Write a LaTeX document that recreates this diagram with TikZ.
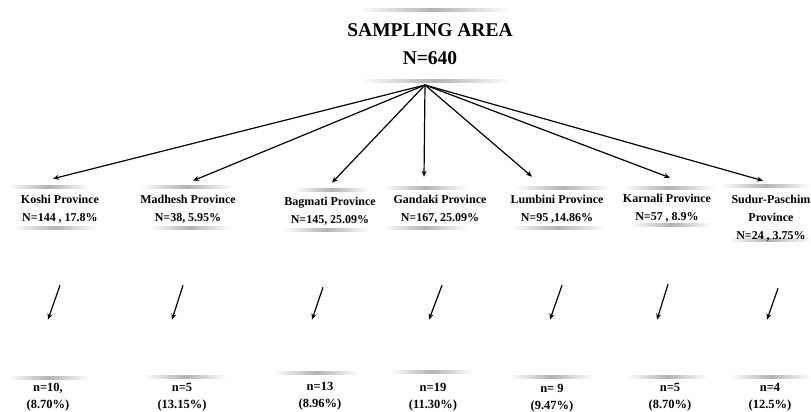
\documentclass[tikz,border=0pt]{standalone}
\usepackage{fontspec}
\setmainfont{Liberation Serif}
\usetikzlibrary{arrows.meta}

\begin{document}
\begin{tikzpicture}[x=1pt,y=-1pt]
\tikzset{
  titlenode/.style={align=center,inner sep=1pt,font=\bfseries\fontsize{19.5}{28}\selectfont},
  provnode/.style={align=center,inner sep=1pt,font=\bfseries\fontsize{12}{18}\selectfont},
  samplenode/.style={align=center,inner sep=1pt,font=\bfseries\fontsize{12.5}{17.5}\selectfont},
  spoke/.style={-{Stealth[length=6pt,width=5pt]},line width=1.2pt},
  drop/.style={-{Stealth[length=6pt,width=5pt]},line width=1.2pt},
  shadebar/.style={left color=white,right color=white,middle color=gray!60}
}
\useasboundingbox (0,0) rectangle (811,412);
% soft grey bars above and below the texts
\foreach \xa/\xb/\yy in {357/510/10,360/510/81,
  7/90/187,13/97/228,140/233/187,150/230/228,293/370/190,283/370/230,
  383/467/188,383/467/228,515/610/188,510/605/228,622/715/188,630/712/225,
  720/811/186,727/811/240,
  7/90/378,143/227/377,273/360/373,390/473/372,510/593/377,627/707/377,730/811/377}
  \shade[shadebar] (\xa,\yy-1.4) rectangle (\xb,\yy+1.4);
\node[titlenode] (n_area) at (430,44) {SAMPLING AREA\\N=640};
\coordinate (hub) at (425,85);
\node[provnode] (n_koshi) at (60,209) {Koshi Province\\N=144 , 17.8\%};
\node[provnode] (n_madhesh) at (188,209) {Madhesh Province\\N=38, 5.95\%};
\node[provnode] (n_bagmati) at (330,211) {Bagmati Province\\N=145, 25.09\%};
\node[provnode] (n_gandaki) at (440,209) {Gandaki Province\\N=167, 25.09\%};
\node[provnode] (n_lumbini) at (557,209) {Lumbini Province\\N=95 ,14.86\%};
\node[provnode] (n_karnali) at (667,208) {Karnali Province\\N=57 , 8.9\%};
\node[provnode] (n_sudur) at (771,218) {Sudur-Paschim\\Province\\N=24 , 3.75\%};
\node[samplenode] (s_koshi) at (48,397) {n=10,\\(8.70\%)};
\node[samplenode] (s_madhesh) at (182,397) {n=5\\(13.15\%)};
\node[samplenode] (s_bagmati) at (320,396) {n=13\\(8.96\%)};
\node[samplenode] (s_gandaki) at (433,397) {n=19\\(11.30\%)};
\node[samplenode] (s_lumbini) at (552,398) {n= 9\\(9.47\%)};
\node[samplenode] (s_karnali) at (670,397) {n=5\\(8.70\%)};
\node[samplenode] (s_sudur) at (770,397) {n=4\\(12.5\%)};
\draw[spoke] (hub) -- ([xshift=-7pt,yshift=15pt]n_koshi.north);
\draw[spoke] (hub) -- ([xshift=5pt,yshift=13pt]n_madhesh.north);
\draw[spoke] (hub) -- ([xshift=2pt,yshift=13pt]n_bagmati.north);
\draw[spoke] (hub) -- ([xshift=-16pt,yshift=17pt]n_gandaki.north);
\draw[spoke] (hub) -- ([xshift=-25pt,yshift=17pt]n_lumbini.north);
\draw[spoke] (hub) -- ([xshift=3pt,yshift=15pt]n_karnali.north);
\draw[spoke] (hub) -- ([xshift=-8pt,yshift=13pt]n_sudur.north);
\draw[drop] ([yshift=-61pt]n_koshi.south) -- ([yshift=62pt]s_koshi.north);
\draw[drop] ([xshift=-5pt,yshift=-61pt]n_madhesh.south) -- ([xshift=-10pt,yshift=62pt]s_madhesh.north);
\draw[drop] ([xshift=-7pt,yshift=-61pt]n_bagmati.south) -- ([xshift=-8pt,yshift=61pt]s_bagmati.north);
\draw[drop] ([xshift=2pt,yshift=-61pt]n_gandaki.south) -- ([xshift=-4pt,yshift=62pt]s_gandaki.north);
\draw[drop] ([xshift=5pt,yshift=-61pt]n_lumbini.south) -- ([xshift=-2pt,yshift=63pt]s_lumbini.north);
\draw[drop] ([xshift=1pt,yshift=-61pt]n_karnali.south) -- ([xshift=-13pt,yshift=62pt]s_karnali.north);
\draw[drop] ([xshift=7pt,yshift=-46pt]n_sudur.south) -- ([xshift=-3pt,yshift=62pt]s_sudur.north);
\end{tikzpicture}
\end{document}
